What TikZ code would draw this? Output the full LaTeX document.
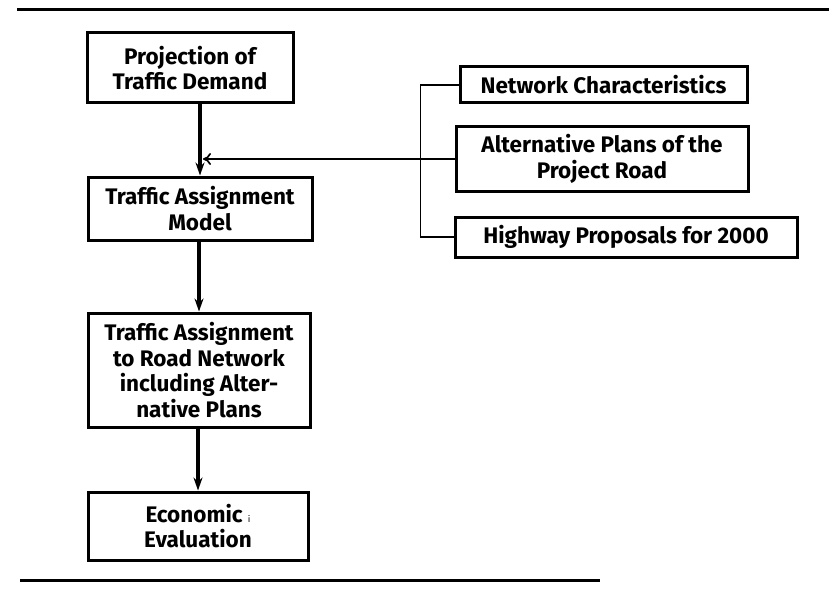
\documentclass[tikz,border=0pt]{standalone}
\usepackage{fontspec}
\setmainfont{Fira Sans}
\usetikzlibrary{arrows.meta}

\begin{document}
\begin{tikzpicture}[x=1pt,y=-1pt,
        main/.style = {draw, line width=3pt, align=center, inner sep=0pt,
                       font=\bfseries\fontsize{22.5}{25.5}\selectfont},
        flow/.style = {line width=3.2pt, -{Stealth[length=13pt,width=9pt]}},
        feed/.style = {line width=1.7pt}]
        \useasboundingbox (0,0) rectangle (829,591);
        % rules above and below
        \draw[line width=3pt] (17,10) -- (829,10);
        \draw[line width=3pt] (20,580) -- (600,580);
        % main chain
        \node[main, minimum width=206pt, minimum height=70pt] (1) at (190,68) {Projection of\\Traffic Demand};
        \node[main, minimum width=224pt, minimum height=63pt] (2) at (200,208.5) {Traffic Assignment\\Model};
        \node[main, minimum width=222pt, minimum height=114pt] (3) at (199,370) {Traffic Assignment\\to Road Network\\including Alter-\\native Plans};
        \node[main, minimum width=220pt, minimum height=68pt] (4) at (198,526) {Economic {\small\mdseries i}\\Evaluation};
        % inputs
        \node[main, minimum width=287pt, minimum height=36pt] (5) at (603.5,85) {Network Characteristics};
        \node[main, minimum width=292pt, minimum height=65pt] (6) at (602,159) {Alternative Plans of the\\Project Road};
        \node[main, minimum width=342pt, minimum height=40pt] (7) at (626,237) {Highway Proposals for 2000};
        \draw[flow] (1.south -| 2.north) -- (2.north);
        \draw[flow] (2.south -| 3.north) -- (3.north);
        \draw[flow] (3.south -| 4.north) -- (4.north);
        \draw[feed] (5.west) -- ++(-38,0) |- (7.west);
        \draw[feed, -{To[length=8pt,width=12pt]}] (6.west) -- ([xshift=3pt]2.north |- 6.west);
\end{tikzpicture}
\end{document}
